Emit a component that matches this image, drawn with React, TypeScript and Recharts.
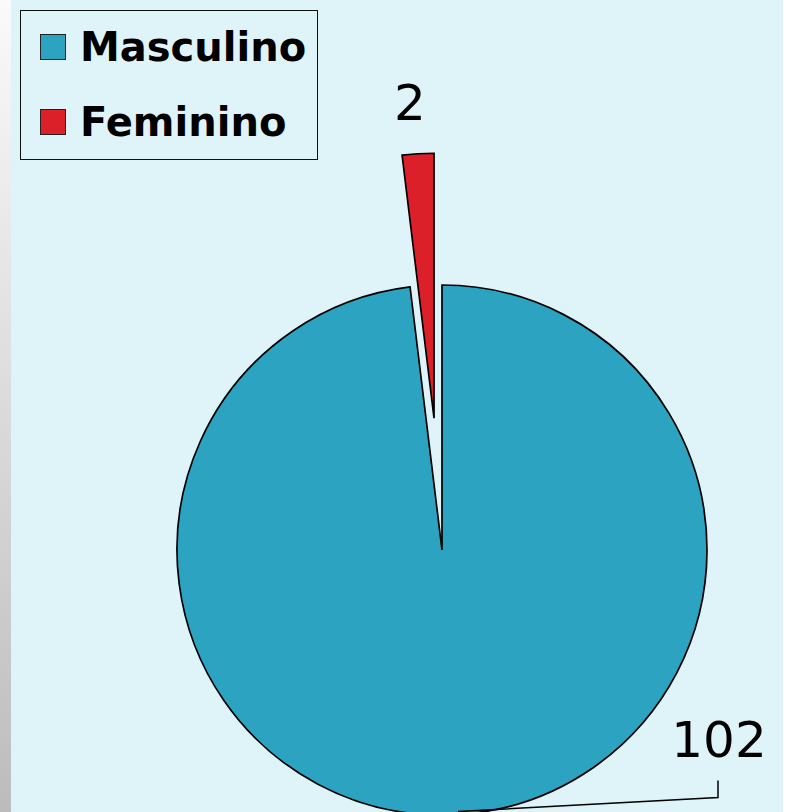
import { PieChart, Pie, Cell, Legend } from "recharts"

const categories = ["Masculino", "Feminino"]
const counts = [102, 2]
const colors = ["#2ca3c1", "#dc202a"]

const data = categories.map((name, i) => ({ name, value: counts[i] }))

const RAD = Math.PI / 180
const FONT = "'DejaVu Sans', sans-serif"
const EXPLODE = 132

// angle of the slice middle for the exploded slice (start at 12 o'clock, clockwise)
const total = counts.reduce((a, b) => a + b, 0)
const femStart = 90 - 360 * (counts[0] / total)
const femMid = (femStart + 90 - 360) / 2 + 360
const offX = EXPLODE * Math.cos(femMid * RAD)
const offY = -EXPLODE * Math.sin(femMid * RAD)

const CX = 437
const CY = 545
const R = 265

const renderLabel = (props: any) => {
  const { cx, cy, midAngle, outerRadius, value, index } = props
  const cos = Math.cos(-midAngle * RAD)
  const sin = Math.sin(-midAngle * RAD)
  if (index === 1) {
    const x = cx + (outerRadius + 51) * cos - 5
    const y = cy + (outerRadius + 51) * sin
    return (
      <text x={x} y={y} textAnchor="middle" dominantBaseline="central" fontSize={50} fontFamily={FONT} fill="#000">
        {value}
      </text>
    )
  }
  const sx = cx + outerRadius * cos
  const sy = cy + outerRadius * sin - 3
  const ex = sx + 260
  const ey = sy - 14
  return (
    <g>
      <polyline points={`${sx},${sy} ${ex},${ey} ${ex},${ey - 17}`} fill="none" stroke="#000" strokeWidth={1.5} />
      <text x={ex + 1} y={ey - 41} textAnchor="middle" fontSize={50} fontFamily={FONT} fill="#000">
        {value}
      </text>
    </g>
  )
}

const LegendBox = () => (
  <div
    style={{
      border: "1.5px solid #111",
      width: 298,
      height: 150,
      boxSizing: "border-box",
      paddingTop: 17,
      paddingLeft: 19,
    }}
  >
    {categories.map((c, i) => (
      <div key={c} style={{ display: "flex", alignItems: "center", height: 38, marginBottom: i === 0 ? 37 : 0 }}>
        <div style={{ width: 24, height: 24, background: colors[i], border: "1.2px solid #222", marginRight: 14 }} />
        <span style={{ fontFamily: FONT, fontSize: 40, fontWeight: 700, color: "#000" }}>{c}</span>
      </div>
    ))}
  </div>
)

export default function App() {
  return (
    <div style={{ position: "absolute", left: 0, top: 0, width: 786, height: 812, background: "#fff", overflow: "hidden" }}>
      <div
        style={{
          position: "absolute",
          left: 0,
          top: 0,
          width: 11,
          height: 812,
          background: "linear-gradient(#fafafa, #bcbcbc)",
        }}
      />
      <div style={{ position: "absolute", left: 11, top: 0, width: 772, height: 812, background: "#dff4f9" }} />
      <div style={{ position: "absolute", left: 0, top: 0 }}>
        <PieChart width={786} height={812}>
          <Pie
            data={data}
            dataKey="value"
            cx={CX}
            cy={CY}
            outerRadius={R}
            startAngle={90}
            endAngle={-270}
            stroke="#000"
            strokeWidth={1.7}
            labelLine={false}
            label={(p: any) => (p.index === 0 ? renderLabel(p) : null)}
            isAnimationActive={false}
          >
            {data.map((d, i) => (
              <Cell key={d.name} fill={i === 0 ? colors[i] : "none"} stroke={i === 0 ? "#000" : "none"} />
            ))}
          </Pie>
          <Pie
            data={data}
            dataKey="value"
            cx={CX + offX}
            cy={CY + offY}
            outerRadius={R}
            startAngle={90}
            endAngle={-270}
            stroke="#000"
            strokeWidth={1.7}
            labelLine={false}
            label={(p: any) => (p.index === 1 ? renderLabel(p) : null)}
            isAnimationActive={false}
          >
            {data.map((d, i) => (
              <Cell key={d.name} fill={i === 1 ? colors[i] : "none"} stroke={i === 1 ? "#000" : "none"} />
            ))}
          </Pie>
          <Legend content={<LegendBox />} wrapperStyle={{ left: 20, top: 10, width: 298 }} layout="vertical" />
        </PieChart>
      </div>
    </div>
  )
}
